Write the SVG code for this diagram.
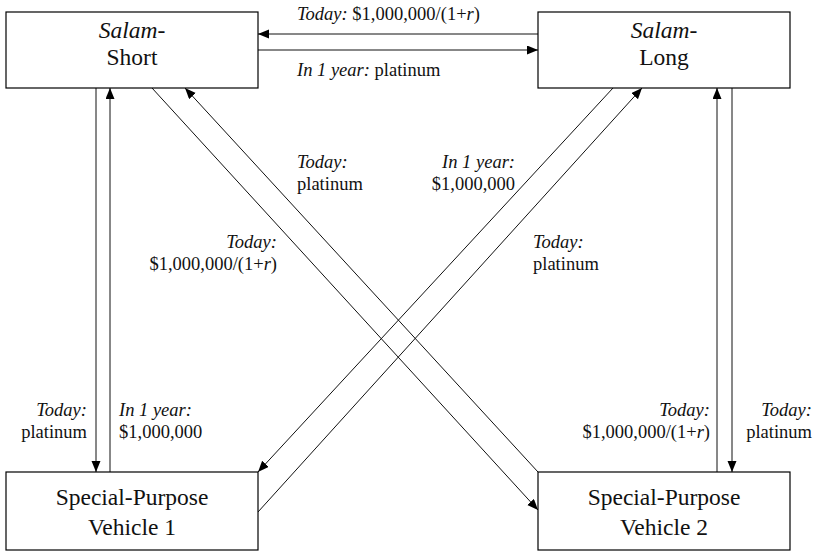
<svg xmlns="http://www.w3.org/2000/svg" width="814" height="553" viewBox="0 0 814 553">
<style>
.box{fill:#fff;stroke:#000;stroke-width:1.2}
.bt{font-family:"Liberation Serif","Times New Roman",serif;font-size:23.5px;fill:#111;text-anchor:middle}
.lb{font-family:"Liberation Serif","Times New Roman",serif;font-size:18.5px;fill:#111}
.it{font-style:italic}
.ln{stroke:#111;stroke-width:1;fill:none}
</style>
<defs>
<marker id="ah" markerUnits="userSpaceOnUse" markerWidth="12" markerHeight="10" refX="11" refY="4.5" orient="auto">
<path d="M0,0 L11,4.5 L0,9 z" fill="#000"/>
</marker>
</defs>
<g id="connectors">
<line class="ln" x1="538" y1="34" x2="258" y2="34" marker-end="url(#ah)"/>
<line class="ln" x1="258" y1="50" x2="538" y2="50" marker-end="url(#ah)"/>
<line class="ln" x1="96" y1="88" x2="96" y2="472" marker-end="url(#ah)"/>
<line class="ln" x1="110" y1="472" x2="110" y2="88" marker-end="url(#ah)"/>
<line class="ln" x1="717" y1="472" x2="717" y2="88" marker-end="url(#ah)"/>
<line class="ln" x1="732" y1="88" x2="732" y2="472" marker-end="url(#ah)"/>
<line class="ln" x1="152" y1="88" x2="538" y2="510" marker-end="url(#ah)"/>
<line class="ln" x1="538" y1="472" x2="185" y2="88" marker-end="url(#ah)"/>
<line class="ln" x1="613" y1="88" x2="258" y2="472" marker-end="url(#ah)"/>
<line class="ln" x1="258" y1="512" x2="642" y2="88" marker-end="url(#ah)"/>
</g>
<g id="labels">
<text class="lb" x="297" y="20"><tspan class="it">Today:</tspan> $1,000,000/(1+<tspan class="it">r</tspan>)</text>
<text class="lb" x="297" y="76"><tspan class="it">In 1 year:</tspan> platinum</text>
<text class="lb it" x="297" y="168">Today:</text>
<text class="lb" x="297" y="190">platinum</text>
<text class="lb it" x="515" y="168" text-anchor="end">In 1 year:</text>
<text class="lb" x="515" y="190" text-anchor="end">$1,000,000</text>
<text class="lb it" x="277" y="248" text-anchor="end">Today:</text>
<text class="lb" x="277" y="270" text-anchor="end">$1,000,000/(1+<tspan class="it">r</tspan>)</text>
<text class="lb it" x="533" y="248">Today:</text>
<text class="lb" x="533" y="270">platinum</text>
<text class="lb it" x="87" y="416" text-anchor="end">Today:</text>
<text class="lb" x="87" y="438" text-anchor="end">platinum</text>
<text class="lb it" x="119" y="416">In 1 year:</text>
<text class="lb" x="119" y="438">$1,000,000</text>
<text class="lb it" x="710" y="416" text-anchor="end">Today:</text>
<text class="lb" x="710" y="438" text-anchor="end">$1,000,000/(1+<tspan class="it">r</tspan>)</text>
<text class="lb it" x="812" y="416" text-anchor="end">Today:</text>
<text class="lb" x="812" y="438" text-anchor="end">platinum</text>
</g>
<g id="salam-short">
<rect class="box" x="6" y="12" width="252" height="76"/>
<text class="bt it" x="132" y="38">Salam-</text>
<text class="bt" x="132" y="65">Short</text>
</g>
<g id="salam-long">
<rect class="box" x="538" y="12" width="252" height="76"/>
<text class="bt it" x="664" y="38">Salam-</text>
<text class="bt" x="664" y="65">Long</text>
</g>
<g id="spv1">
<rect class="box" x="6" y="472" width="252" height="78"/>
<text class="bt" x="132" y="505">Special-Purpose</text>
<text class="bt" x="132" y="535">Vehicle 1</text>
</g>
<g id="spv2">
<rect class="box" x="538" y="472" width="252" height="78"/>
<text class="bt" x="664" y="505">Special-Purpose</text>
<text class="bt" x="664" y="535">Vehicle 2</text>
</g>
</svg>
